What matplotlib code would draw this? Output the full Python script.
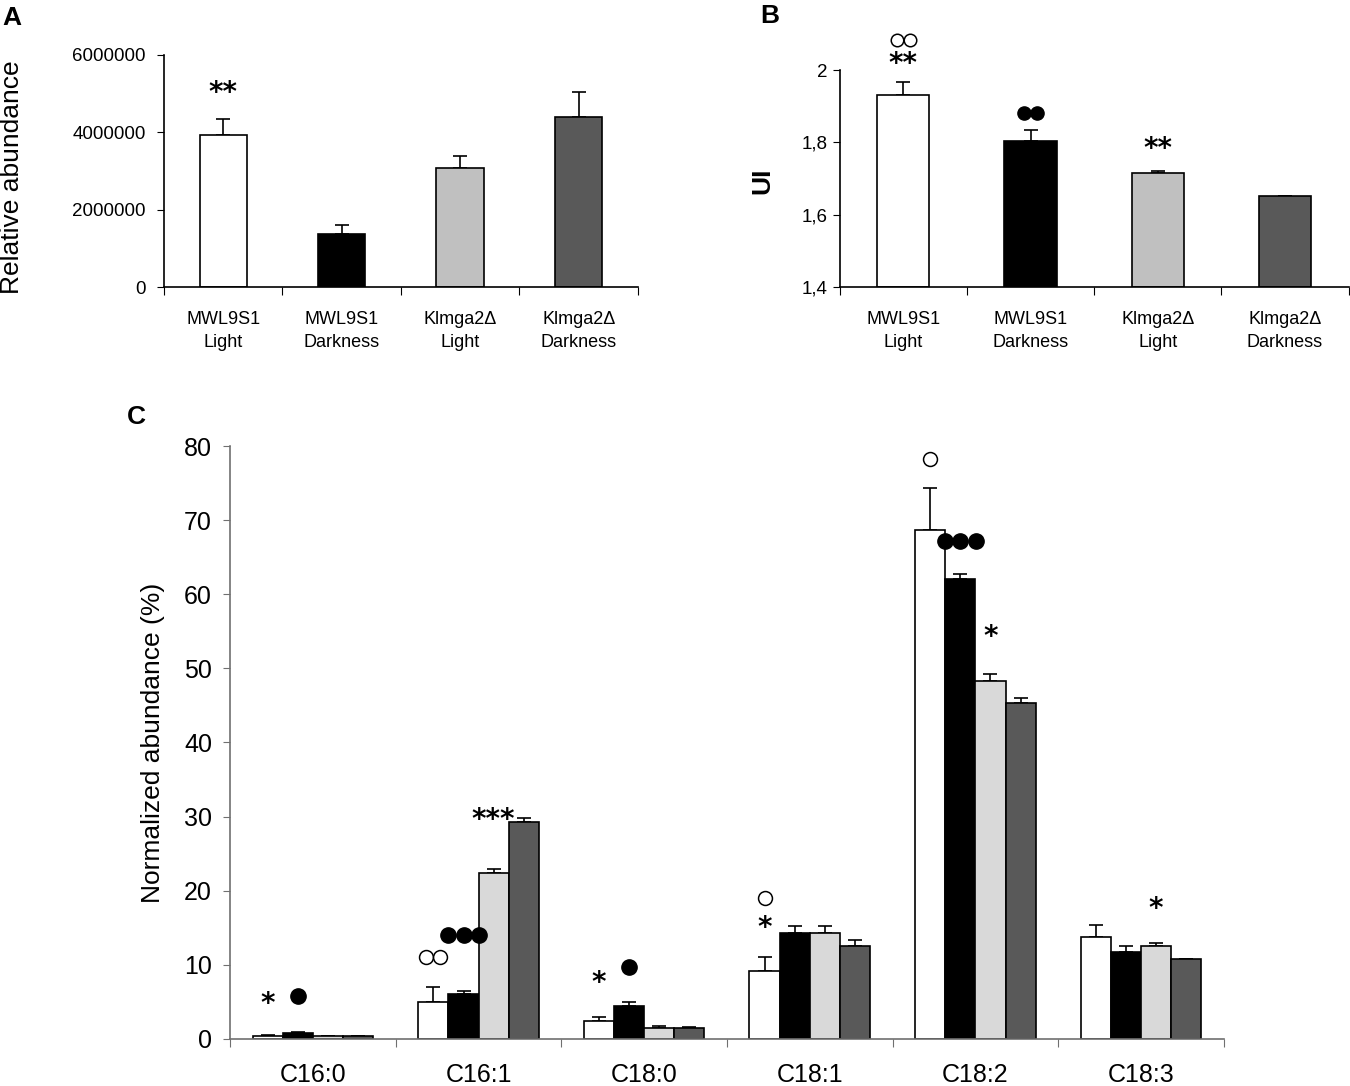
import numpy as np
import matplotlib
matplotlib.use("Agg")
import matplotlib.pyplot as plt
from matplotlib.transforms import offset_copy

plt.rcParams["font.family"] = ["Liberation Sans", "DejaVu Sans"]

# Panel A / B data
strains = ["MWL9S1\nLight", "MWL9S1\nDarkness", "Klmga2\u0394\nLight", "Klmga2\u0394\nDarkness"]
abund_mean = [3920000, 1370000, 3080000, 4400000]
abund_err = [430000, 240000, 300000, 650000]
ui_mean = [1.930, 1.805, 1.715, 1.651]
ui_err = [0.038, 0.028, 0.005, 0.002]

# Panel C data
fatty_acids = ["C16:0", "C16:1", "C18:0", "C18:1", "C18:2", "C18:3"]
mwl_light = [0.4, 5.0, 2.4, 9.2, 68.7, 13.8]
mwl_light_err = [0.1, 2.0, 0.6, 1.8, 5.7, 1.6]
mwl_dark = [0.8, 6.1, 4.4, 14.3, 62.0, 11.8]
mwl_dark_err = [0.1, 0.4, 0.6, 0.9, 0.7, 0.7]
kl_light = [0.4, 22.4, 1.5, 14.3, 48.3, 12.5]
kl_light_err = [0.05, 0.6, 0.2, 0.9, 1.0, 0.5]
kl_dark = [0.4, 29.3, 1.5, 12.5, 45.3, 10.8]
kl_dark_err = [0.05, 0.5, 0.05, 0.9, 0.7, 0.05]

# significance marks: (category, [bar,] y, text)
marks_a = [(0, 5020000, "**")]
marks_b = [(0, 2.016, "**"), (0, 2.082, "\u25cb\u25cb"), (1, 1.88, "\u25cf\u25cf"), (2, 1.782, "**")]
marks_c = [
    (0, 0, 4.7, "*"), (0, 1, 5.8, "\u25cf"),
    (1, 0, 11.1, "\u25cb\u25cb"), (1, 1, 14.0, "\u25cf\u25cf\u25cf"), (1, 2, 29.5, "***"),
    (2, 0, 7.6, "*"), (2, 1, 9.7, "\u25cf"),
    (3, 0, 15.0, "*"), (3, 0, 19.0, "\u25cb"),
    (4, 0, 78.3, "\u25cb"), (4, 1, 67.2, "\u25cf\u25cf\u25cf"), (4, 2, 54.2, "*"),
    (5, 2, 17.5, "*"),
]

colors_ab = ["white", "black", "#c0c0c0", "#595959"]
colors_c = ["white", "black", "#d9d9d9", "#595959"]

fig = plt.figure(figsize=(13.5, 10.86), dpi=100)


def style_axes(ax, n, spine_color="black"):
    ax.spines["top"].set_visible(False)
    ax.spines["right"].set_visible(False)
    for s in ["left", "bottom"]:
        ax.spines[s].set_color(spine_color)
        ax.spines[s].set_linewidth(1.2)
    ax.set_xlim(-0.5, n - 0.5)
    ax.set_xticks(np.arange(n + 1) - 0.5)
    ax.set_xticklabels([])
    ax.tick_params(axis="x", which="major", direction="out", length=6, color=spine_color)
    ax.tick_params(axis="y", direction="out", length=5, color=spine_color)
    ax.tick_params(axis="x", which="minor", length=0)


def draw_mark(ax, x, y, t, size_filled, size_open):
    if "\u25cf" in t or "\u25cb" in t:
        # circles as touching markers
        n = len(t)
        for k, ch in enumerate(t):
            filled = ch == "\u25cf"
            ms = size_filled if filled else size_open
            tr = offset_copy(ax.transData, fig=fig, x=(k - (n - 1) / 2) * ms, y=0,
                             units="points")
            ax.plot([x], [y], marker="o", markersize=ms, transform=tr, clip_on=False,
                    markerfacecolor="black" if filled else "white",
                    markeredgecolor="black", markeredgewidth=1.0 if filled else 1.1,
                    linestyle="none", zorder=3)
    else:
        ax.text(x, y, t, ha="center", va="center", fontsize=20, fontweight="bold",
                family="DejaVu Sans", clip_on=False)


# ---- Panel A
axA = fig.add_axes([0.1215, 0.7357, 0.351, 0.2137])
x = np.arange(4)
axA.bar(x, abund_mean, width=0.4, color=colors_ab, edgecolor="black", linewidth=1.2, zorder=2)
axA.errorbar(x, abund_mean, yerr=[np.zeros(4), abund_err], fmt="none", ecolor="black",
             elinewidth=1.2, capsize=5, capthick=1.2, zorder=1)
axA.set_ylim(0, 6000000)
axA.set_yticks([0, 2000000, 4000000, 6000000])
axA.set_yticklabels(["0", "2000000", "4000000", "6000000"], fontsize=13.5)
style_axes(axA, 4)
axA.tick_params(axis="y", pad=8)
axA.set_xticks(x, minor=True)
axA.set_xticklabels(strains, minor=True, fontsize=13, linespacing=1.4)
axA.tick_params(axis="x", which="minor", pad=17.5)
axA.set_ylabel("Relative abundance", fontsize=19)
axA.yaxis.set_label_coords(-0.295, 0.474)
for i, y, t in marks_a:
    draw_mark(axA, i, y, t, 9.5, 9.5)
fig.text(0.002, 0.983, "A", fontsize=19, fontweight="bold", va="center")

# ---- Panel B
axB = fig.add_axes([0.622, 0.7357, 0.377, 0.1998])
axB.bar(x, [m - 1.4 for m in ui_mean], bottom=1.4, width=0.41, color=colors_ab,
        edgecolor="black", linewidth=1.2, zorder=2)
axB.errorbar(x, ui_mean, yerr=[np.zeros(4), ui_err], fmt="none", ecolor="black",
             elinewidth=1.2, capsize=5, capthick=1.2, zorder=1)
axB.set_ylim(1.4, 2.0)
axB.set_yticks([1.4, 1.6, 1.8, 2.0])
axB.set_yticklabels(["1,4", "1,6", "1,8", "2"], fontsize=13.5)
style_axes(axB, 4)
axB.set_xticks(x, minor=True)
axB.set_xticklabels(strains, minor=True, fontsize=13, linespacing=1.4)
axB.tick_params(axis="x", which="minor", pad=17.5)
axB.set_ylabel("UI", fontsize=19, fontweight="bold")
axB.yaxis.set_label_coords(-0.128, 0.49)
for i, y, t in marks_b:
    draw_mark(axB, i, y, t, 9.5, 9.0)
fig.text(0.563, 0.985, "B", fontsize=19, fontweight="bold", va="center")

# ---- Panel C
axC = fig.add_axes([0.1705, 0.0433, 0.736, 0.546])
xc = np.arange(len(fatty_acids))
w = 0.182
series = [(mwl_light, mwl_light_err), (mwl_dark, mwl_dark_err),
          (kl_light, kl_light_err), (kl_dark, kl_dark_err)]
offsets = (np.arange(4) - 1.5) * w
for k, (vals, errs) in enumerate(series):
    axC.bar(xc + offsets[k], vals, width=w, color=colors_c[k], edgecolor="black",
            linewidth=1.2, zorder=2)
    axC.errorbar(xc + offsets[k], vals, yerr=[np.zeros(len(vals)), errs], fmt="none",
                 ecolor="black", elinewidth=1.2, capsize=5, capthick=1.2, zorder=1)
axC.set_ylim(0, 80)
axC.set_yticks(np.arange(0, 81, 10))
axC.tick_params(axis="y", labelsize=18, pad=8)
style_axes(axC, len(fatty_acids), spine_color="#707070")
axC.set_xticks(xc, minor=True)
axC.set_xticklabels(fatty_acids, minor=True, fontsize=18)
axC.tick_params(axis="x", which="minor", pad=17)
axC.set_ylabel("Normalized abundance (%)", fontsize=19)
axC.yaxis.set_label_coords(-0.066, 0.50)
for g, b, y, t in marks_c:
    draw_mark(axC, g + offsets[b], y, t, 11, 10)
fig.text(0.094, 0.616, "C", fontsize=19, fontweight="bold", va="center")

fig.savefig("out.png", dpi=100)
